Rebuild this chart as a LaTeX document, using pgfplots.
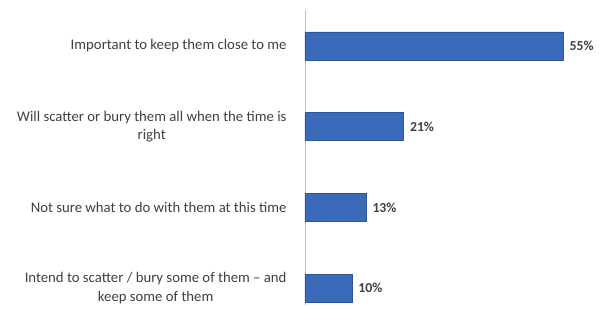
\documentclass[border=0pt]{standalone}
\usepackage{pgfplots}
\pgfplotsset{compat=1.18}
\usepackage{fontspec}
\setmainfont{Carlito}
\definecolor{barblue}{RGB}{58,106,186}
\definecolor{txt}{RGB}{64,64,64}
\begin{document}
\begin{tikzpicture}
\useasboundingbox (-305bp,-4bp) rectangle (305bp,305bp);
\begin{axis}[
  at={(0,0)}, anchor=south west,
  scale only axis, width=305bp, height=295bp,
  xbar, bar width=28bp,
  xmin=0, xmax=65, ymin=-0.21, ymax=3.446,
  axis x line=none,
  axis y line*=left,
  y axis line style={draw=black!25, line width=0.8pt, -},
  ytick={0,1,2,3},
  yticklabels={{Intend to scatter / bury some of them -- and\\keep some of them},
               {Not sure what to do with them at this time},
               {Will scatter or bury them all when the time is\\right},
               {Important to keep them close to me}},
  yticklabel style={align=center, font=\fontsize{14.8}{18.5}\selectfont, text=txt, xshift=-15bp},
  major tick length=0pt,
  /pgf/number format/assume math mode=true,
  nodes near coords={\pgfmathprintnumber{\pgfplotspointmeta}\%},
  nodes near coords style={font=\bfseries\fontsize{13.8}{16}\selectfont, text=txt, xshift=3bp},
  every node near coord/.append style={anchor=west},
]
\addplot[fill=barblue, draw=barblue!80!black] coordinates {(10,0) (13,1) (21,2) (55,3)};
\end{axis}
\end{tikzpicture}
\end{document}
